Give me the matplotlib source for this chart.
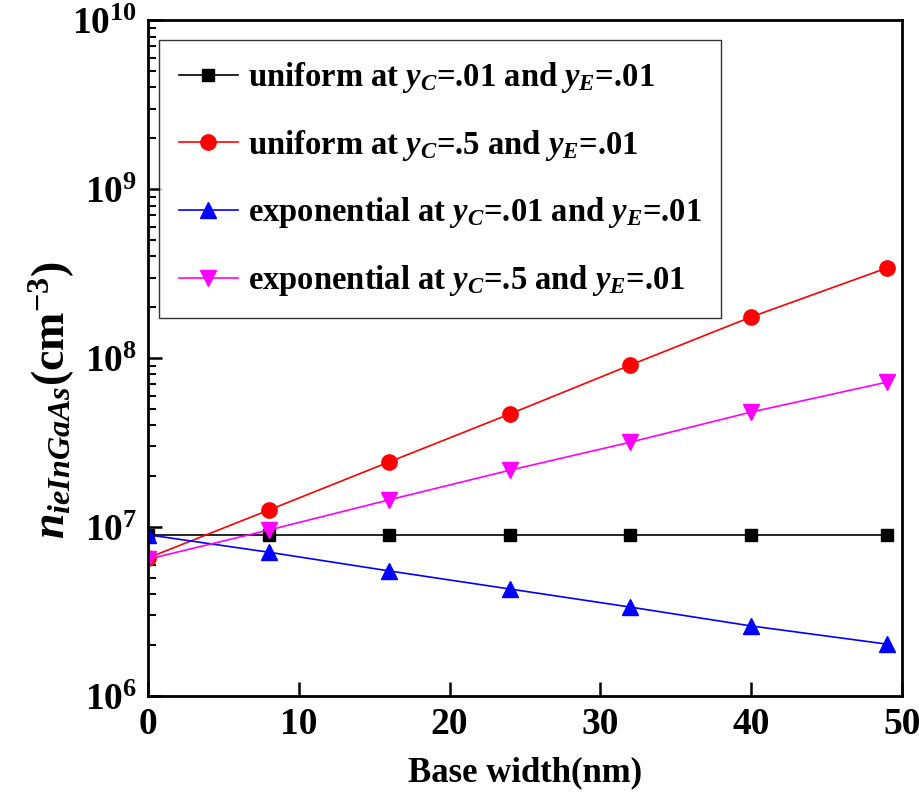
import matplotlib
matplotlib.use("Agg")
import matplotlib.pyplot as plt
import numpy as np

plt.rcParams['font.family'] = 'Liberation Serif'
plt.rcParams['font.weight'] = 'bold'
plt.rcParams['mathtext.fontset'] = 'custom'
plt.rcParams['mathtext.rm'] = 'Liberation Serif:bold'
plt.rcParams['mathtext.it'] = 'Liberation Serif:italic:bold'
plt.rcParams['mathtext.bf'] = 'Liberation Serif:bold'

# base width (nm)
base_width = [0, 8, 16, 24, 32, 40, 49]

# intrinsic carrier density (cm^-3)
uniform_low = [9.0e6, 9.0e6, 9.0e6, 9.0e6, 9.0e6, 9.0e6, 9.0e6]
uniform_high = [6.57e6, 1.26e7, 2.43e7, 4.67e7, 9.1e7, 1.75e8, 3.41e8]
expo_low = [9.0e6, 7.1e6, 5.5e6, 4.3e6, 3.36e6, 2.6e6, 2.03e6]
expo_high = [6.46e6, 9.6e6, 1.45e7, 2.17e7, 3.18e7, 4.79e7, 7.2e7]

labels = [
    r'uniform at $\mathit{y_C}$=.01 and $\mathit{y_E}$=.01',
    r'uniform at $\mathit{y_C}$=.5 and $\mathit{y_E}$=.01',
    r'exponential at $\mathit{y_C}$=.01 and $\mathit{y_E}$=.01',
    r'exponential at $\mathit{y_C}$=.5 and $\mathit{y_E}$=.01',
]

fig = plt.figure(figsize=(9.2, 7.96), dpi=100)
ax = fig.add_axes([0.161, 0.1256, 0.819, 0.849])

ax.plot(base_width, uniform_low, color='black', marker='s', markersize=9, lw=1.2, label=labels[0])
ax.plot(base_width, uniform_high, color='red', marker='o', markersize=11, lw=1.2, label=labels[1])
ax.plot(base_width, expo_low, color='blue', marker='^', markersize=12, lw=1.2, label=labels[2])
ax.plot(base_width, expo_high, color='magenta', marker='v', markersize=12, lw=1.2, label=labels[3])

ax.set_yscale('log')
ax.set_xlim(0, 50)
ax.set_ylim(1e6, 1e10)
ax.set_xticks([0, 10, 20, 30, 40, 50])

for s in ax.spines.values():
    s.set_linewidth(2)

ax.tick_params(axis='both', which='major', direction='in', length=10, width=1.8,
               labelsize=27, pad=8)
ax.tick_params(axis='y', which='minor', direction='in', length=6, width=1.5)
ax.tick_params(axis='x', which='minor', bottom=False)
for lab in ax.get_xticklabels() + ax.get_yticklabels():
    lab.set_fontweight('bold')

ax.set_xlabel('Base width(nm)', fontsize=25, fontweight='bold', labelpad=10)
ax.set_ylabel(r'$\mathit{n_{ieInGaAs}}$(cm$^{\mathbf{-3}}$)', fontsize=33, fontweight='bold')
ax.yaxis.set_label_coords(-0.094, 0.438)

leg = ax.legend(loc='upper left', bbox_to_anchor=(0.015, 0.97), fontsize=23.5, frameon=True,
                fancybox=False, edgecolor='black', handlelength=1.8, labelspacing=1.0,
                handletextpad=0.3, borderpad=0.6, borderaxespad=0)
leg.get_frame().set_linewidth(1.0)
for t in leg.get_texts():
    t.set_fontweight('bold')

fig.savefig('out.png', dpi=100)
